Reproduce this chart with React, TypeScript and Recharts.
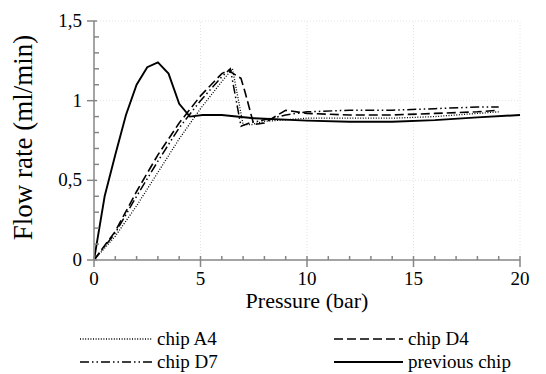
import React from 'react';
import { LineChart, Line, XAxis, YAxis, ReferenceLine, Legend } from 'recharts';

// ---- data ----
const pressureA4 = [0, 1, 2, 3, 4, 5, 6, 6.5, 7.0, 7.4, 8, 9, 10, 12, 14, 16, 18, 19];
const flowA4 = [0, 0.15, 0.34, 0.55, 0.76, 0.95, 1.12, 1.2, 0.85, 0.85, 0.87, 0.88, 0.89, 0.89, 0.89, 0.9, 0.92, 0.93];

const pressureD4 = [0, 1, 2, 3, 4, 5, 6, 6.3, 6.9, 7.1, 7.5, 8, 9, 10, 12, 14, 16, 18, 19];
const flowD4 = [0, 0.18, 0.43, 0.66, 0.86, 1.03, 1.17, 1.19, 1.14, 1.05, 0.85, 0.86, 0.94, 0.92, 0.91, 0.91, 0.92, 0.93, 0.94];

const pressureD7 = [0, 1, 2, 3, 4, 5, 6, 6.4, 6.9, 7.3, 8, 9, 10, 12, 14, 16, 18, 19];
const flowD7 = [0, 0.17, 0.4, 0.62, 0.83, 1.0, 1.15, 1.2, 0.84, 0.86, 0.88, 0.91, 0.93, 0.94, 0.94, 0.95, 0.96, 0.96];

const pressurePrev = [0, 0.5, 1, 1.5, 2, 2.5, 3, 3.5, 4, 4.5, 5.1, 6, 7.5, 10, 12, 14, 16, 18, 20];
const flowPrev = [0, 0.4, 0.66, 0.91, 1.1, 1.21, 1.24, 1.17, 0.98, 0.9, 0.91, 0.91, 0.89, 0.875, 0.868, 0.868, 0.878, 0.895, 0.91];

const xMajorTicks = [0, 5, 10, 15, 20];
const xMinorTicks = [1, 2, 3, 4, 6, 7, 8, 9, 11, 12, 13, 14, 16, 17, 18, 19];
const yMajorTicks = [0, 0.5, 1, 1.5];
const yMinorTicks = [0.1, 0.2, 0.3, 0.4, 0.6, 0.7, 0.8, 0.9, 1.1, 1.2, 1.3, 1.4];

const seriesNames = ['chip A4', 'chip D4', 'chip D7', 'previous chip'];

const toPoints = (xs: number[], ys: number[]) => xs.map((p, i) => ({ p, f: ys[i] }));

const FONT = 'Liberation Serif, Times New Roman, DejaVu Serif, serif';
const AXIS_GRAY = '#868686';

const series = [
  { name: seriesNames[0], data: toPoints(pressureA4, flowA4), dash: '1 1.6', width: 1.3 },
  { name: seriesNames[1], data: toPoints(pressureD4, flowD4), dash: '9 4', width: 1.6 },
  { name: seriesNames[2], data: toPoints(pressureD7, flowD7), dash: '9 3 1.5 3 1.5 3', width: 1.5 },
  { name: seriesNames[3], data: toPoints(pressurePrev, flowPrev), dash: undefined, width: 1.9 },
];

const fmt = (v: number) => String(v).replace('.', ',');

const textStyle = (size: number): React.CSSProperties => ({ fontFamily: FONT, fontSize: size });

const XTick = (props: any) => {
  const { x, y, payload } = props;
  const v = payload.value;
  const major = xMajorTicks.includes(v);
  return (
    <g>
      {major ? (
        <line x1={x} x2={x} y1={y - 4} y2={y + 7} stroke={AXIS_GRAY} strokeWidth={1.5} />
      ) : (
        <line x1={x} x2={x} y1={y - 4} y2={y} stroke={AXIS_GRAY} strokeWidth={1.5} />
      )}
      {major && (
        <text x={x} y={y + 25} textAnchor="middle" style={textStyle(19)} fill="#000">
          {fmt(v)}
        </text>
      )}
    </g>
  );
};

const YTick = (props: any) => {
  const { x, y, payload } = props;
  const v = payload.value;
  const major = yMajorTicks.includes(v);
  return (
    <g>
      {major ? (
        <line x1={x - 7} x2={x + 3} y1={y} y2={y} stroke={AXIS_GRAY} strokeWidth={1.5} />
      ) : (
        <line x1={x} x2={x + 5} y1={y} y2={y} stroke={AXIS_GRAY} strokeWidth={1.5} />
      )}
      {major && (
        <text x={x - 12} y={y + 6} textAnchor="end" style={textStyle(19)} fill="#000">
          {fmt(v)}
        </text>
      )}
    </g>
  );
};

const LegendContent = () => {
  const cells = [
    { s: series[0], left: 80, top: 0, sw: 72 },
    { s: series[1], left: 334, top: 0, sw: 69 },
    { s: series[2], left: 80, top: 23, sw: 72 },
    { s: series[3], left: 334, top: 23, sw: 69 },
  ];
  return (
    <div style={{ position: 'relative', width: 546, height: 46, ...textStyle(19) }}>
      {cells.map((c) => (
        <div key={c.s.name} style={{ position: 'absolute', left: c.left, top: c.top, display: 'flex', alignItems: 'center', height: 22 }}>
          <svg width={c.sw} height={10} style={{ display: 'block' }}>
            <line x1={0} x2={c.sw} y1={5} y2={5} stroke="#000" strokeWidth={c.s.width} strokeDasharray={c.s.dash} />
          </svg>
          <span style={{ marginLeft: 5, lineHeight: '22px', color: '#000' }}>{c.s.name}</span>
        </div>
      ))}
    </div>
  );
};

export default function App() {
  const allX = [...xMajorTicks, ...xMinorTicks].sort((a, b) => a - b);
  const allY = [...yMajorTicks, ...yMinorTicks].sort((a, b) => a - b);
  return (
    <div style={{ position: 'absolute', left: 0, top: 0, background: '#fff' }}>
      <LineChart width={546} height={374} margin={{ top: 21, right: 26, left: 0, bottom: 0 }}>
        {xMajorTicks.slice(1).map((t) => (
          <ReferenceLine key={'vx' + t} x={t} stroke="#e4e4e4" strokeDasharray="1 2" />
        ))}
        {yMajorTicks.slice(1).map((t) => (
          <ReferenceLine key={'hy' + t} y={t} stroke="#e4e4e4" strokeDasharray="1 2" />
        ))}
        <XAxis
          type="number"
          dataKey="p"
          domain={[0, 20]}
          ticks={allX}
          interval={0}
          tickSize={0}
          tickMargin={0}
          tick={<XTick />}
          tickLine={false}
          axisLine={{ stroke: AXIS_GRAY, strokeWidth: 1.5 }}
          height={68}
          allowDataOverflow
          label={{
            content: (lp: any) => {
              const vb = lp.viewBox;
              return (
                <text x={vb.x + vb.width / 2} y={vb.y + 48} textAnchor="middle" style={textStyle(22)} fill="#000">
                  Pressure (bar)
                </text>
              );
            },
          }}
        />
        <YAxis
          type="number"
          dataKey="f"
          domain={[0, 1.5]}
          ticks={allY}
          interval={0}
          tickSize={0}
          tickMargin={0}
          tick={<YTick />}
          tickLine={false}
          axisLine={{ stroke: AXIS_GRAY, strokeWidth: 1.5 }}
          width={94}
          allowDataOverflow
          label={{
            content: (lp: any) => {
              const vb = lp.viewBox;
              const cx = 23;
              const cy = vb.y + vb.height / 2 - 3;
              return (
                <text x={cx} y={cy} transform={`rotate(-90 ${cx} ${cy})`} textAnchor="middle" dominantBaseline="central" style={textStyle(27)} fill="#000">
                  Flow rate (ml/min)
                </text>
              );
            },
          }}
        />
        <Legend verticalAlign="bottom" align="left" content={<LegendContent />} wrapperStyle={{ left: 0, width: 546, height: 46 }} />
        {series.map((s) => (
          <Line
            key={s.name}
            name={s.name}
            data={s.data}
            dataKey="f"
            type="linear"
            stroke="#000"
            strokeWidth={s.width}
            strokeDasharray={s.dash}
            dot={false}
            activeDot={false}
            isAnimationActive={false}
          />
        ))}
      </LineChart>
    </div>
  );
}
